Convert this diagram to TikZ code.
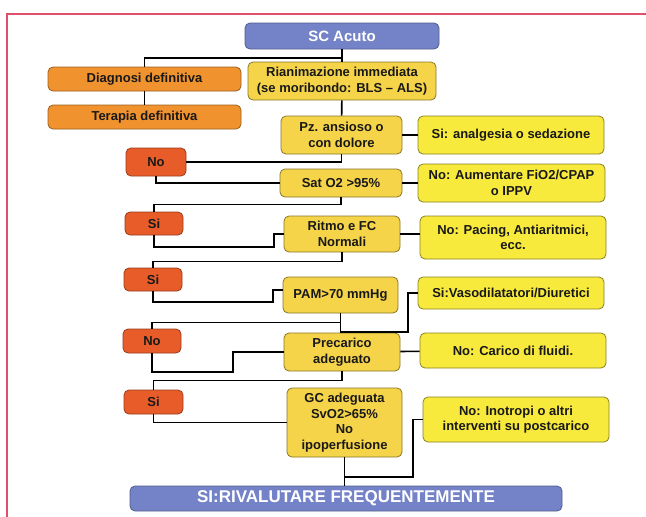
\documentclass[tikz,border=0pt]{standalone}
\usepackage{fontspec}
\setmainfont{Liberation Sans}
\usepackage{tikz}

\definecolor{headblue}{RGB}{116,131,200}
\definecolor{defor}{RGB}{240,146,46}
\definecolor{mainyel}{RGB}{246,212,74}
\definecolor{sideyel}{RGB}{248,234,60}
\definecolor{ansred}{RGB}{232,92,42}
\definecolor{framered}{RGB}{224,80,106}

\begin{document}
\begin{tikzpicture}[x=1pt,y=-1pt,
    every node/.style={draw,rounded corners=5pt,align=center,inner sep=1pt,
      line width=0.8pt,text=black!90,font=\fontsize{13}{15.5}\selectfont\bfseries},
    head/.style={fill=headblue,draw=headblue!70!black,text=white},
    defin/.style={fill=defor,draw=defor!65!black},
    main/.style={fill=mainyel,draw=mainyel!55!black},
    side/.style={fill=sideyel,draw=sideyel!55!black},
    ans/.style={fill=ansred,draw=ansred!65!black},
    link/.style={line width=1.6pt}]

    \useasboundingbox (0,0) rectangle (646,517);

    % Frame (top and left only)
    \draw[framered,line width=2pt] (7,517) -- (7,14) -- (646,14);

    %==================== Top: start and definitive branch ====================
    \node[head,minimum width=194,minimum height=26,font=\fontsize{15}{17}\selectfont\bfseries]
      (sc) at (342,36) {SC Acuto};
    \node[defin,minimum width=193,minimum height=24] (diag) at (144.5,79) {Diagnosi definitiva};
    \node[defin,minimum width=193,minimum height=24] (tera) at (144.5,117) {Terapia definitiva};
    \node[main,minimum width=188,minimum height=38] (rian) at (342,81)
      {Rianimazione immediata\\(se moribondo: BLS -- ALS)};

    \coordinate (j0) at (342,58);
    \draw[link] (sc) -- (rian);
    \draw[link] (j0) -| (diag.north);
    \draw[link] (diag) -- (tera);

    %==================== Main column (checks) ====================
    \node[main,minimum width=121,minimum height=38] (pz)  at (341.5,135) {Pz. ansioso o\\con dolore};
    \node[main,minimum width=122,minimum height=28] (sat) at (341,183) {Sat O2 >95\%};
    \node[main,minimum width=116,minimum height=36] (rit) at (342,234) {Ritmo e FC\\Normali};
    \node[main,minimum width=115,minimum height=36] (pam) at (340.5,295) {PAM>70 mmHg};
    \node[main,minimum width=116,minimum height=38] (pre) at (342,352) {Precarico\\adeguato};
    \node[main,minimum width=115,minimum height=69] (gc)  at (344.5,422.5)
      {GC adeguata\\SvO2>65\%\\No\\ipoperfusione};

    % Side actions
    \node[side,minimum width=186,minimum height=38] (siA) at (511,135) {Si: analgesia o sedazione};
    \node[side,minimum width=187,minimum height=38] (noA) at (511.5,183) {No: Aumentare FiO2/CPAP\\o IPPV};
    \node[side,minimum width=186,minimum height=43] (noP) at (513,237.5) {No: Pacing, Antiaritmici,\\ecc.};
    \node[side,minimum width=186,minimum height=32] (siV) at (511,293) {Si:Vasodilatatori/Diuretici};
    \node[side,minimum width=186,minimum height=35] (noC) at (513,350.5) {No: Carico di fluidi.};
    \node[side,minimum width=186,minimum height=45] (noI) at (516,419.5) {No: Inotropi o altri\\interventi su postcarico};

    % Answers on the left
    \node[ans,minimum width=60,minimum height=28] (no1) at (156,162) {No};
    \node[ans,minimum width=58,minimum height=23] (si1) at (154,223.5) {Si};
    \node[ans,minimum width=58,minimum height=23] (si2) at (153,279.5) {Si};
    \node[ans,minimum width=58,minimum height=24] (no3) at (152,341) {No};
    \node[ans,minimum width=59,minimum height=24] (si3) at (153.5,402) {Si};

    % End
    \node[head,minimum width=432,minimum height=25,font=\fontsize{17}{19}\selectfont\bfseries]
      (riv) at (346,498.5) {SI:RIVALUTARE FREQUENTEMENTE};

    %==================== Connectors ====================
    \draw[link] (rian) -- (pz);
    \draw[link] (pz) -- (siA);
    \draw[link] (pz.south) |- (no1.east);
    \draw[link] (no1.south) |- (sat.west);
    \draw[link] (sat) -- (noA);
    \draw[link] (sat.south) -- ++(0,7) -| (si1.north);
    \draw[link] (si1.south) |- (274,247) |- (rit.west);
    \draw[link] (rit.east) -- (rit.east -| noP.west);
    \draw[link] (rit.south) -- ++(0,9) -| (si2.north);
    \draw[link] (si2.south) |- (273,302) |- ([yshift=5pt]pam.west);
    \draw[link] (pam.south) |- (408,332) |- (siV.west);
    \path (pam.south) ++(0,9) coordinate (j3);
    \draw[link] (j3) -| (no3.north);
    \draw[link] (no3.south) |- (233,372) |- (pre.west);
    \draw[link] (pre) -- (noC);
    \draw[link] (pre.south) -- ++(0,9) -| (si3.north);
    \draw[link] (si3.south) |- (gc.west);
    \draw[link] (gc.south) -- (gc.south |- riv.north);
    \draw[link] (gc.south) |- (413,477) |- (noI.west);

  \end{tikzpicture}
\end{document}
